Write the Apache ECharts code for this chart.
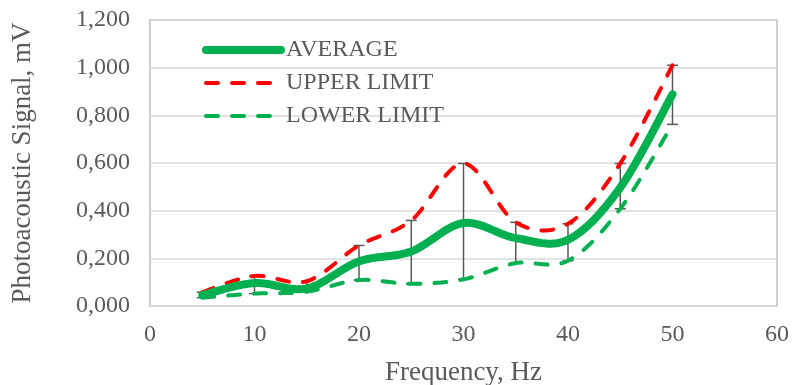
<!DOCTYPE html>
<html><head><meta charset="utf-8">
<script src="https://cdn.jsdelivr.net/npm/echarts@6/dist/echarts.min.js"></script>
<style>html,body{margin:0;padding:0;background:#fff}#c{width:792px;height:385px}</style>
</head><body><div id="c"></div>
<script>
const freq = [5, 10, 15, 20, 25, 30, 35, 40, 45, 50];
const average = [0.046, 0.096, 0.074, 0.187, 0.229, 0.348, 0.285, 0.278, 0.497, 0.888];
const upperLimit = [0.058, 0.126, 0.104, 0.254, 0.359, 0.598, 0.351, 0.345, 0.598, 1.01];
const lowerLimit = [0.035, 0.052, 0.060, 0.109, 0.093, 0.112, 0.180, 0.190, 0.408, 0.762];
const yTickLabels = ['0,000', '0,200', '0,400', '0,600', '0,800', '1,000', '1,200'];
const xTickLabels = ['0', '10', '20', '30', '40', '50', '60'];

const FONT = '"Liberation Serif", "Times New Roman", serif';
const TXT = '#595959';
const GREEN = '#00b050', RED = '#ff0000';
const DASH = [12, 14];
const pair = (a) => freq.map((x, i) => [x, a[i]]);

const avgStyle = { color: GREEN, width: 8, cap: 'round', type: 'solid' };
const upStyle = { color: RED, width: 4, type: DASH, cap: 'round' };
const loStyle = { color: GREEN, width: 4, type: DASH, cap: 'round' };

// Smooth (Catmull-Rom style) rendering of a series through the axis scales
function smoothRenderer(values, style) {
  return function (params, api) {
    if (params.dataIndex !== 0) return null;
    const P = freq.map((x, i) => api.coord([x, values[i]]));
    const pts = [];
    const seg = 24;
    for (let i = 0; i < P.length - 1; i++) {
      const p0 = P[Math.max(i - 1, 0)], p1 = P[i], p2 = P[i + 1], p3 = P[Math.min(i + 2, P.length - 1)];
      const c1 = [p1[0] + (p2[0] - p0[0]) / 6, p1[1] + (p2[1] - p0[1]) / 6];
      const c2 = [p2[0] - (p3[0] - p1[0]) / 6, p2[1] - (p3[1] - p1[1]) / 6];
      for (let k = (i === 0 ? 0 : 1); k <= seg; k++) {
        const t = k / seg, u = 1 - t;
        pts.push([
          u*u*u*p1[0] + 3*u*u*t*c1[0] + 3*u*t*t*c2[0] + t*t*t*p2[0],
          u*u*u*p1[1] + 3*u*u*t*c1[1] + 3*u*t*t*c2[1] + t*t*t*p2[1]
        ]);
      }
    }
    return { type: 'polyline', shape: { points: pts }, style: Object.assign({ fill: null }, style) };
  };
}

const chart = echarts.init(document.getElementById('c'));
chart.setOption({
  animation: false,
  grid: { left: 150, right: 15, top: 20, bottom: 79, outerBoundsMode: 'none', containLabel: false,
    show: true, borderColor: '#bfbfbf', borderWidth: 1.5 },
  legend: {
    orient: 'vertical', left: 197, top: 33, itemWidth: 75, itemHeight: 14, itemGap: 9,
    itemStyle: { opacity: 0 },
    textStyle: { fontFamily: FONT, fontSize: 24, color: TXT, lineHeight: 24 },
    data: [
      { name: 'AVERAGE', lineStyle: avgStyle },
      { name: 'UPPER LIMIT', lineStyle: upStyle },
      { name: 'LOWER LIMIT', lineStyle: loStyle }
    ]
  },
  xAxis: {
    type: 'value', min: 0, max: 60, interval: 10,
    name: 'Frequency, Hz', nameLocation: 'middle', nameGap: 53,
    nameTextStyle: { fontFamily: FONT, fontSize: 27, color: TXT },
    axisLine: { show: false }, axisTick: { show: false }, splitLine: { show: false },
    axisLabel: { fontFamily: FONT, fontSize: 24, color: TXT, margin: 17,
      formatter: (v) => xTickLabels[Math.round(v / 10)] }
  },
  yAxis: {
    type: 'value', min: 0, max: 1.2, interval: 0.2,
    name: 'Photoacoustic Signal, mV', nameLocation: 'middle', nameGap: 114,
    nameTextStyle: { fontFamily: FONT, fontSize: 27, color: TXT },
    axisLine: { show: false }, axisTick: { show: false },
    splitLine: { lineStyle: { color: '#d9d9d9', width: 1.5 } },
    axisLabel: { fontFamily: FONT, fontSize: 24, color: TXT, margin: 20,
      formatter: (v) => yTickLabels[Math.round(v / 0.2)] }
  },
  series: [
    // legend carriers
    { type: 'line', name: 'AVERAGE', data: [], symbol: 'none', lineStyle: avgStyle, itemStyle: { color: GREEN, opacity: 0 } },
    { type: 'line', name: 'UPPER LIMIT', data: [], symbol: 'none', lineStyle: upStyle, itemStyle: { color: RED, opacity: 0 } },
    { type: 'line', name: 'LOWER LIMIT', data: [], symbol: 'none', lineStyle: loStyle, itemStyle: { color: GREEN, opacity: 0 } },
    {
      type: 'custom', name: 'err', silent: true, z: 1,
      data: freq.map((x, i) => [x, lowerLimit[i], upperLimit[i]]),
      renderItem: (params, api) => {
        const lo = api.coord([api.value(0), api.value(1)]);
        const hi = api.coord([api.value(0), api.value(2)]);
        const w = 5.5;
        const st = { stroke: '#595959', lineWidth: 1.5 };
        return { type: 'group', children: [
          { type: 'line', shape: { x1: lo[0], y1: lo[1], x2: hi[0], y2: hi[1] }, style: st },
          { type: 'line', shape: { x1: lo[0] - w, y1: lo[1], x2: lo[0] + w, y2: lo[1] }, style: st },
          { type: 'line', shape: { x1: hi[0] - w, y1: hi[1], x2: hi[0] + w, y2: hi[1] }, style: st }
        ]};
      }
    },
    { type: 'custom', name: 'UPPER LIMIT', data: pair(upperLimit), z: 3, silent: true,
      renderItem: smoothRenderer(upperLimit, { stroke: RED, lineWidth: 4, lineDash: DASH, lineCap: 'round' }) },
    { type: 'custom', name: 'LOWER LIMIT', data: pair(lowerLimit), z: 3, silent: true,
      renderItem: smoothRenderer(lowerLimit, { stroke: GREEN, lineWidth: 4, lineDash: DASH, lineCap: 'round' }) },
    { type: 'custom', name: 'AVERAGE', data: pair(average), z: 4, silent: true,
      renderItem: smoothRenderer(average, { stroke: GREEN, lineWidth: 8, lineCap: 'round', lineJoin: 'round' }) }
  ]
});
</script></body></html>
